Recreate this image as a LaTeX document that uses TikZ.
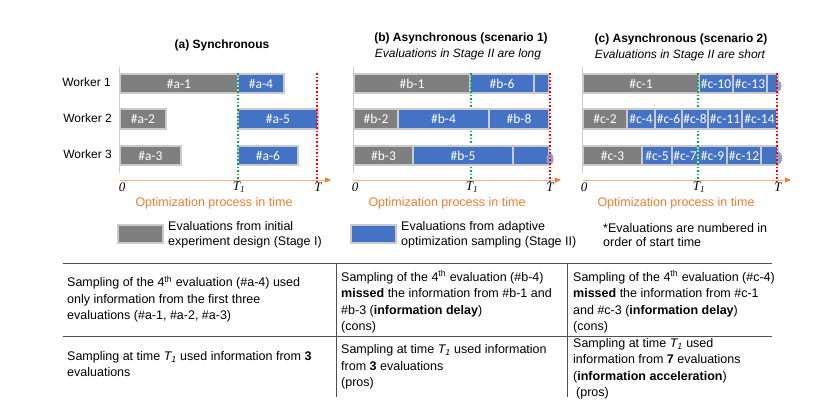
\documentclass[tikz,border=0pt]{standalone}
\usepackage{fontspec}
\setmainfont{Liberation Sans}
\newfontfamily\calib{Carlito}
\newfontfamily\tms{Liberation Serif}
\usetikzlibrary{arrows.meta}
\definecolor{bargray}{HTML}{7F7F7F}
\definecolor{barblue}{HTML}{4472C4}
\definecolor{barline}{HTML}{CACACA}
\definecolor{tgreen}{HTML}{00B050}
\definecolor{tred}{HTML}{FF0000}
\definecolor{taxisc}{HTML}{F4B183}
\definecolor{torange}{HTML}{ED7D31}
\definecolor{rulec}{HTML}{505050}
\definecolor{bulgec}{HTML}{8FA3CC}
\newcommand\evbar[6]{\node[evbox,#5,minimum width={(#3-#2)*1pt}] (#1) at ({(#2+#3)/2},#4) {#6};}
\tikzset{
  evbox/.style={draw=barline, line width=1.6pt, minimum height=19.5pt, inner sep=0pt, outer sep=0pt,
    text=white, font=\calib\fontsize{13.5}{14}\selectfont},
  gb/.style={fill=bargray},
  bb/.style={fill=barblue},
  yaxis/.style={draw=barline, line width=0.9pt},
  taxis/.style={draw=taxisc, line width=0.9pt, -{Triangle[length=6pt,width=5pt,fill=torange,color=torange]}},
  greenline/.style={draw=tgreen, line width=1.6pt, dotted},
  redline/.style={draw=tred, line width=1.6pt, dotted},
  ticklab/.style={font=\tms\itshape\fontsize{13}{14}\selectfont, inner sep=0pt},
  caption/.style={text=torange, font=\fontsize{12.5}{14}\selectfont, inner sep=0pt},
  worker/.style={anchor=east, font=\fontsize{12}{14}\selectfont, inner sep=0pt},
  title/.style={font=\bfseries\fontsize{12}{14}\selectfont, inner sep=0pt},
  subtitle/.style={font=\itshape\fontsize{12}{14}\selectfont, inner sep=0pt},
  legtext/.style={anchor=west, align=left, font=\fontsize{12.5}{14.5}\selectfont, inner sep=0pt},
  legbox/.style={draw=barline, line width=1.6pt, minimum width=45pt, minimum height=18pt, inner sep=0pt, outer sep=0pt},
  cell/.style={anchor=west, align=left, font=\fontsize{12.5}{16.5}\selectfont, inner sep=0pt},
  rule/.style={draw=rulec, line width=0.9pt},
  bulge/.style={fill=bulgec}
}
\begin{document}
\begin{tikzpicture}[x=1pt,y=-1pt]
\useasboundingbox (0,0) rectangle (835,401);

% titles
\node[title] (ta) at (222,45) {(a) Synchronous};
\node[title] (tb) at (461,38) {(b) Asynchronous (scenario 1)};
\node[subtitle] (sb) at (458,54) {Evaluations in Stage II are long};
\node[title] (tc) at (681,39) {(c) Asynchronous (scenario 2)};
\node[subtitle] (sc) at (680,55) {Evaluations in Stage II are short};

% worker labels
\node[worker] (w1) at (111,82) {Worker 1};
\node[worker] (w2) at (112,118) {Worker 2};
\node[worker] (w3) at (112,154) {Worker 3};

% vertical axes
\coordinate (ya1) at (119,67); \coordinate (ya2) at (119,173);
\coordinate (yb1) at (353,67); \coordinate (yb2) at (353,173);
\coordinate (yc1) at (582,67); \coordinate (yc2) at (582,173);
\draw[yaxis] (ya1) -- (ya2);
\draw[yaxis] (yb1) -- (yb2);
\draw[yaxis] (yc1) -- (yc2);

% T1 lines (behind the bars)
\coordinate (gb1) at (471,73); \coordinate (gb2) at (471,182);
\coordinate (gc1) at (698,73); \coordinate (gc2) at (698,182);
\draw[greenline] (gb1) -- (gb2);
\draw[greenline] (gc1) -- (gc2);

% panel (a)
\evbar{a1}{120}{238}{83.5}{gb}{\#a-1}
\evbar{a4}{238}{284}{83.5}{bb}{\#a-4}
\evbar{a2}{120}{166}{119}{gb}{\#a-2}
\evbar{a5}{238}{318}{119}{bb}{\#a-5}
\evbar{a3}{120}{181}{155.5}{gb}{\#a-3}
\evbar{a6}{238}{298}{155.5}{bb}{\#a-6}

% panel (b)
\evbar{b1}{354}{470}{83.5}{gb}{\#b-1}
\evbar{b6}{470}{534}{83.5}{bb}{\#b-6}
\evbar{b9}{534}{549}{83.5}{bb}{}
\evbar{b2}{354}{398}{119}{gb}{\#b-2}
\evbar{b4}{398}{489}{119}{bb}{\#b-4}
\evbar{b8}{489}{549}{119}{bb}{\#b-8}
\evbar{b3}{354}{413}{155.5}{gb}{\#b-3}
\evbar{b5}{413}{513}{155.5}{bb}{\#b-5}
\evbar{b7}{513}{549}{155.5}{bb}{}
\fill[bulge] (550,159) ellipse (3.5 and 6);

% panel (c)
\evbar{c1}{583}{699}{83.5}{gb}{\#c-1}
\evbar{c10}{699}{733}{83.5}{bb}{\#c-10}
\evbar{c13}{733}{767}{83.5}{bb}{\#c-13}
\evbar{c16}{767}{778}{83.5}{bb}{}
\evbar{c2}{583}{627}{119}{gb}{\#c-2}
\evbar{c4}{627}{655}{119}{bb}{\#c-4}
\evbar{c6}{655}{682}{119}{bb}{\#c-6}
\evbar{c8}{682}{708}{119}{bb}{\#c-8}
\evbar{c11}{708}{742}{119}{bb}{\#c-11}
\evbar{c14}{742}{777}{119}{bb}{\#c-14}
\evbar{c3}{583}{642}{155.5}{gb}{\#c-3}
\evbar{c5}{642}{672}{155.5}{bb}{\#c-5}
\evbar{c7}{672}{698}{155.5}{bb}{\#c-7}
\evbar{c9}{698}{727}{155.5}{bb}{\#c-9}
\evbar{c12}{727}{761}{155.5}{bb}{\#c-12}
\evbar{c15}{761}{778}{155.5}{bb}{}
\fill[bulge] (779,86) ellipse (2.5 and 5);
\fill[bulge] (779,158) ellipse (3 and 6);

% time axes
\coordinate (xa1) at (120,180); \coordinate (xa2) at (331,180);
\coordinate (xb1) at (354,180); \coordinate (xb2) at (561,180);
\coordinate (xc1) at (583,180); \coordinate (xc2) at (791,180);
\draw[taxis] (xa1) -- (xa2);
\draw[taxis] (xb1) -- (xb2);
\draw[taxis] (xc1) -- (xc2);

% T1 lines visible on bar boundaries, and T lines
\coordinate (ga1) at (238,73); \coordinate (ga2) at (238,182);
\coordinate (ra1) at (317,73); \coordinate (ra2) at (317,182);
\coordinate (rb1) at (550,73); \coordinate (rb2) at (550,182);
\coordinate (rc1) at (777,73); \coordinate (rc2) at (777,182);
\coordinate (gbo1) at (471,73); \coordinate (gbo2) at (471,94);
\coordinate (gco1) at (698,73); \coordinate (gco2) at (698,94);
\coordinate (gco3) at (698,145); \coordinate (gco4) at (698,166);
\draw[greenline] (ga1) -- (ga2);
\draw[greenline] (gbo1) -- (gbo2);
\draw[greenline] (gco1) -- (gco2);
\draw[greenline] (gco3) -- (gco4);
\draw[redline] (ra1) -- (ra2);
\draw[redline] (rb1) -- (rb2);
\draw[redline] (rc1) -- (rc2);

% tick labels
\node[ticklab] (za) at (122,187) {0};
\node[ticklab] (t1a) at (239,187) {T\textsubscript{1}};
\node[ticklab] (ta2) at (318,187) {T};
\node[ticklab] (zb) at (355,187) {0};
\node[ticklab] (t1b) at (472,187) {T\textsubscript{1}};
\node[ticklab] (tb2) at (550,187) {T};
\node[ticklab] (zc) at (584,187) {0};
\node[ticklab] (t1c) at (699,187) {T\textsubscript{1}};
\node[ticklab] (tc2) at (778,187) {T};

% captions
\node[caption] (ca) at (214,203) {Optimization process in time};
\node[caption] (cb) at (447,203) {Optimization process in time};
\node[caption] (cc) at (676,203) {Optimization process in time};

% legend
\node[legbox,fill=bargray] (lg) at (140.5,234) {};
\node[legtext] (lgt) at (168,235) {Evaluations from initial\\experiment design (Stage I)};
\node[legbox,fill=barblue] (lb) at (373.5,234) {};
\node[legtext] (lbt) at (401,235) {Evaluations from adaptive\\optimization sampling (Stage II)};
\node[legtext] (ln) at (603,235) {*Evaluations are numbered in\\order of start time};

% table rules
\coordinate (r1a) at (63,263); \coordinate (r1b) at (772,263);
\coordinate (r2a) at (63,336); \coordinate (r2b) at (772,336);
\coordinate (v1a) at (336,263); \coordinate (v1b) at (336,397);
\coordinate (v2a) at (567,263); \coordinate (v2b) at (567,397);
\draw[rule] (r1a) -- (r1b);
\draw[rule] (r2a) -- (r2b);
\draw[rule] (v1a) -- (v1b);
\draw[rule] (v2a) -- (v2b);

% table cells
\node[cell] (c11t) at (67,299) {Sampling of the 4\textsuperscript{th} evaluation (\#a-4) used\\only information from the first three\\evaluations (\#a-1, \#a-2, \#a-3)};
\node[cell] (c12t) at (341,302) {Sampling of the 4\textsuperscript{th} evaluation (\#b-4)\\\textbf{missed} the information from \#b-1 and\\\#b-3 (\textbf{information delay})\\(cons)};
\node[cell] (c13t) at (573,302) {Sampling of the 4\textsuperscript{th} evaluation (\#c-4)\\\textbf{missed} the information from \#c-1\\and \#c-3 (\textbf{information delay})\\(cons)};
\node[cell] (c21t) at (67,364) {Sampling at time \textit{T\textsubscript{1}} used information from \textbf{3}\\evaluations};
\node[cell] (c22t) at (341,367) {Sampling at time \textit{T\textsubscript{1}} used information\\from \textbf{3} evaluations\\(pros)};
\node[cell] (c23t) at (573,369) {Sampling at time \textit{T\textsubscript{1}} used\\information from \textbf{7} evaluations\\(\textbf{information acceleration})\\\hspace{3pt}(pros)};
\end{tikzpicture}
\end{document}
